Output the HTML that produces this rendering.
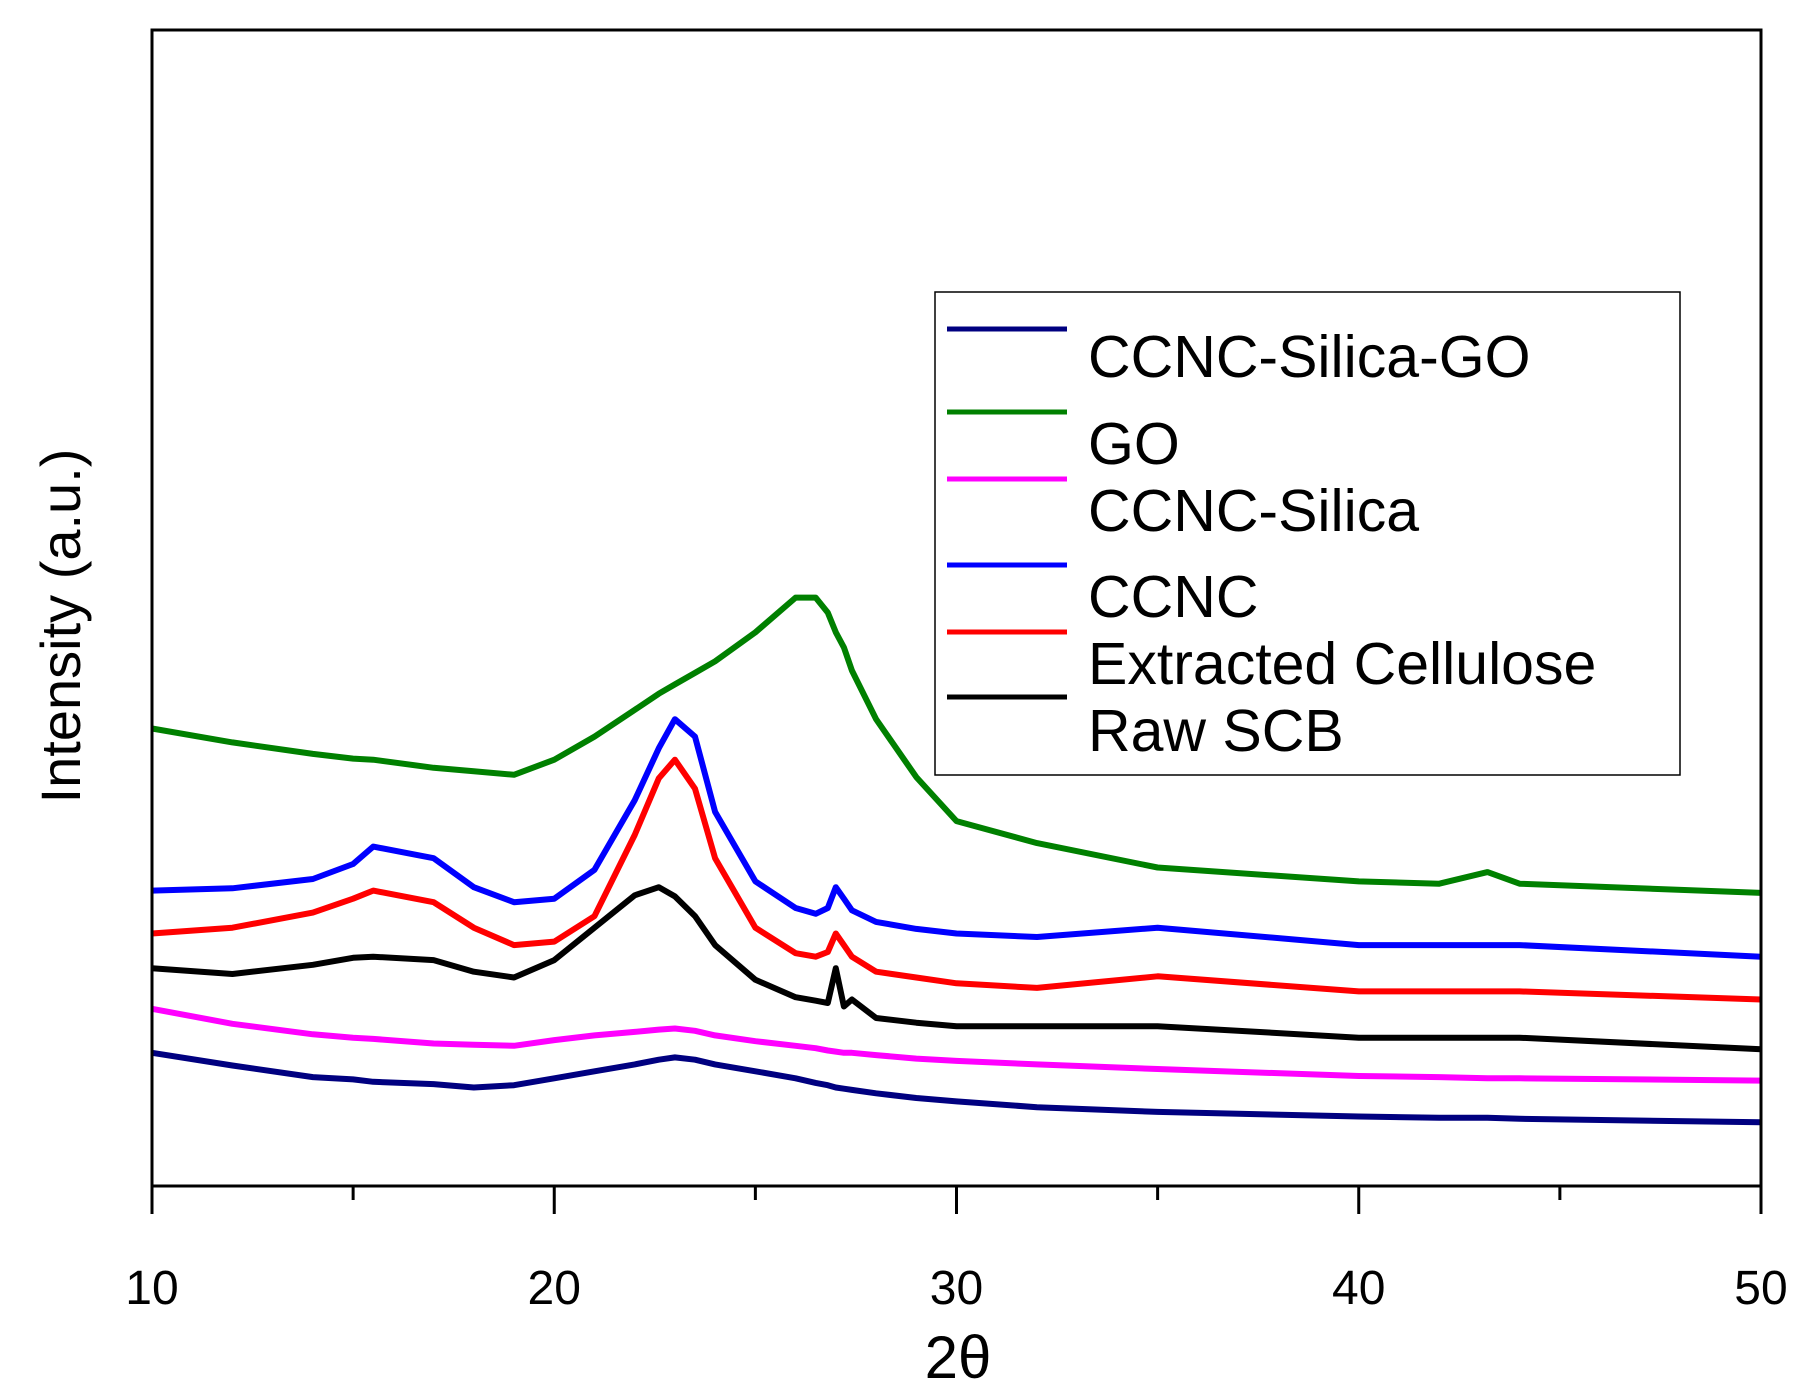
<!DOCTYPE html>
<html><head><meta charset="utf-8"><style>
body{margin:0;background:#fff;}
svg{display:block;font-family:"Liberation Sans",Arial,sans-serif;}
</style></head><body>
<svg id="chart" width="1815" height="1397" viewBox="0 0 1815 1397">
<rect x="0" y="0" width="1815" height="1397" fill="#fff"/>
<g id="series"></g>
<rect x="152" y="30" width="1609" height="1156" fill="none" stroke="#000" stroke-width="3"/>
<g id="ticks"></g>
<text x="958" y="1378" font-size="60" text-anchor="middle">2θ</text>
<text transform="translate(80,626) rotate(-90)" font-size="56" text-anchor="middle">Intensity (a.u.)</text>
<g>
<rect x="935" y="292" width="745" height="483" fill="#fff" stroke="#000" stroke-width="1.5"/>
<g id="legend"></g>
</g>
</svg>
<script>
const xVals=[10,12,14,15,15.5,17,18,19,20,21,22,22.6,23,23.5,24,25,26,26.5,26.8,27,27.2,27.4,28,29,30,32,35,40,42,43.2,44,50];
const seriesNames=["CCNC-Silica-GO","GO","CCNC-Silica","CCNC","Extracted Cellulose","Raw SCB"];
const seriesColors=["#000080","#008000","#ff00ff","#0000ff","#ff0000","#000000"];
// intensities (a.u.), one value per xVals entry
const navy=[115,104,94,92,90,88,85,87,93,99,105,109,111,109,105,99,93,89,87,85,84,83,80,76,73,68,64,60,59,59,58,55];
const green=[395,383,373,369,368,361,358,355,368,388,411,425,433,443,453,478,508,508,495,478,465,445,403,353,315,296,275,263,261,271,261,253];
const magenta=[153,140,131,128,127,123,122,121,126,130,133,135,136,134,130,125,121,119,117,116,115,115,113,110,108,105,101,95,94,93,93,91];
const blue=[255,257,265,278,293,283,258,245,248,273,333,378,403,388,323,263,240,235,240,258,248,238,228,222,218,215,223,208,208,208,208,198];
const red=[218,223,236,248,255,245,223,208,211,233,303,352,368,343,283,223,201,198,202,218,208,198,185,180,175,171,181,168,168,168,168,161];
const black=[188,183,191,197,198,195,185,180,195,223,251,258,250,233,208,178,163,160,158,188,155,161,145,141,138,138,138,128,128,128,128,118];
const seriesData=[navy,green,magenta,blue,red,black];
const xTicks=[10,20,30,40,50];
const xMinorTicks=[15,25,35,45];

const X0=152,X1=1761,Y0=1186,Y1=30;
const xScale=v=>X0+(v-10)/40*(X1-X0);
const yScale=v=>Y0-v/998*(Y0-Y1);
const NS="http://www.w3.org/2000/svg";
const sg=document.getElementById('series');
seriesData.forEach((arr,i)=>{
  const p=document.createElementNS(NS,'polyline');
  p.setAttribute('points',arr.map((v,j)=>xScale(xVals[j]).toFixed(1)+','+yScale(v).toFixed(1)).join(' '));
  p.setAttribute('fill','none');p.setAttribute('stroke',seriesColors[i]);
  p.setAttribute('stroke-width','6');p.setAttribute('stroke-linejoin','round');
  
  
  sg.appendChild(p);
});
const tg=document.getElementById('ticks');
xTicks.forEach(t=>{
  const l=document.createElementNS(NS,'line');
  l.setAttribute('x1',xScale(t));l.setAttribute('x2',xScale(t));l.setAttribute('y1',Y0);l.setAttribute('y2',Y0+28);
  l.setAttribute('stroke','#000');l.setAttribute('stroke-width','3');
  
  
  tg.appendChild(l);
  const tx=document.createElementNS(NS,'text');
  tx.setAttribute('x',xScale(t));tx.setAttribute('y',1304);tx.setAttribute('font-size','48');tx.setAttribute('text-anchor','middle');
  tx.textContent=t;
  
  
  tg.appendChild(tx);
});
xMinorTicks.forEach(t=>{
  const l=document.createElementNS(NS,'line');
  l.setAttribute('x1',xScale(t));l.setAttribute('x2',xScale(t));l.setAttribute('y1',Y0);l.setAttribute('y2',Y0+14);
  l.setAttribute('stroke','#000');l.setAttribute('stroke-width','3');
  
  
  tg.appendChild(l);
});
const lineYs=[329,412,479,565,632,697];
const textYs=[377,464,531,617,684,751];
const lg=document.getElementById('legend');
seriesNames.forEach((n,i)=>{
  const l=document.createElementNS(NS,'line');
  l.setAttribute('x1',947);l.setAttribute('x2',1067);l.setAttribute('y1',lineYs[i]);l.setAttribute('y2',lineYs[i]);
  l.setAttribute('stroke',seriesColors[i]);l.setAttribute('stroke-width','5');
  
  
  lg.appendChild(l);
  const tx=document.createElementNS(NS,'text');
  tx.setAttribute('x',1088);tx.setAttribute('y',textYs[i]);tx.setAttribute('font-size','59');
  tx.textContent=n;
  
  
  lg.appendChild(tx);
});
</script>
</body></html>
